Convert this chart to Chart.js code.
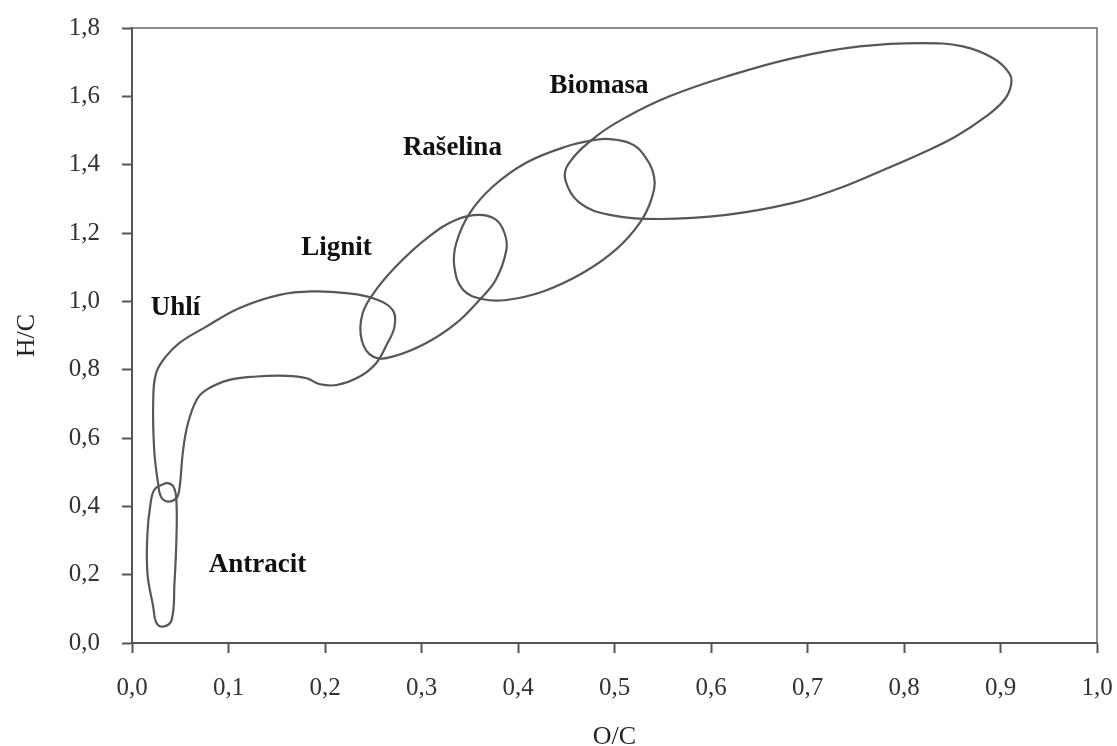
<!DOCTYPE html>
<html lang="cs">
<head>
<meta charset="utf-8">
<title>Diagram H/C - O/C</title>
<script src="https://cdn.jsdelivr.net/npm/chart.js@4.4.1/dist/chart.umd.min.js"></script>
<style>
  html, body { margin: 0; padding: 0; background: #fff; }
  #graphe { display: block; }
</style>
</head>
<body>
<canvas id="graphe" width="1117" height="746"></canvas>
<script>
// noms des zones (même ordre que les contours)
const zones = ['Antracit', 'Uhlí', 'Lignit', 'Rašelina', 'Biomasa'];

const antracitOC = [0.016, 0.019, 0.023, 0.031, 0.037, 0.043, 0.046, 0.046, 0.044, 0.041, 0.032, 0.025, 0.022, 0.016];
const antracitHC = [0.321, 0.404, 0.448, 0.463, 0.468, 0.457, 0.419, 0.302, 0.175, 0.067, 0.048, 0.061, 0.106, 0.204];

const uhliOC = [0.153, 0.187, 0.222, 0.250, 0.270, 0.272, 0.263, 0.253, 0.236, 0.212, 0.194, 0.181, 0.160, 0.129, 0.101, 0.077,
                0.067, 0.058, 0.053, 0.049, 0.046, 0.037, 0.030, 0.027, 0.023, 0.022, 0.025, 0.035, 0.049, 0.077, 0.111];
const uhliHC = [1.019, 1.029, 1.024, 1.009, 0.975, 0.926, 0.868, 0.819, 0.780, 0.755, 0.758, 0.775, 0.782, 0.780, 0.770, 0.741,
                0.712, 0.643, 0.565, 0.448, 0.424, 0.414, 0.428, 0.468, 0.565, 0.712, 0.790, 0.838, 0.878, 0.926, 0.980];

const lignitOC = [0.277, 0.308, 0.336, 0.360, 0.377, 0.386, 0.388, 0.377, 0.360, 0.336, 0.305, 0.270, 0.250, 0.238, 0.239, 0.253];
const lignitHC = [1.112, 1.190, 1.239, 1.253, 1.239, 1.200, 1.151, 1.063, 1.004, 0.936, 0.878, 0.838, 0.838, 0.887, 0.965, 1.034];

const raselinaOC = [0.408, 0.450, 0.481, 0.495, 0.516, 0.529, 0.541, 0.538, 0.526, 0.502, 0.467, 0.426, 0.388, 0.364, 0.343, 0.334, 0.336, 0.350, 0.374];
const raselinaHC = [1.405, 1.453, 1.473, 1.475, 1.463, 1.434, 1.365, 1.297, 1.229, 1.153, 1.083, 1.029, 1.004, 1.006, 1.034, 1.102, 1.170, 1.258, 1.336];

const biomasaOC = [0.616, 0.685, 0.754, 0.819, 0.861, 0.892, 0.909, 0.911, 0.904, 0.885, 0.854, 0.819, 0.775, 0.733, 0.685, 0.616,
                   0.547, 0.495, 0.464, 0.449, 0.453, 0.481, 0.512, 0.557];
const biomasaHC = [1.658, 1.712, 1.746, 1.756, 1.746, 1.712, 1.668, 1.634, 1.590, 1.541, 1.483, 1.434, 1.380, 1.331, 1.288, 1.253,
                   1.241, 1.253, 1.288, 1.356, 1.405, 1.483, 1.539, 1.600];

// position des noms de zones (O/C, H/C)
const etiquetteOC = [0.130, 0.045, 0.212, 0.332, 0.484];
const etiquetteHC = [0.228, 0.980, 1.156, 1.449, 1.631];

const contours = [
  [antracitOC, antracitHC],
  [uhliOC, uhliHC],
  [lignitOC, lignitHC],
  [raselinaOC, raselinaHC],
  [biomasaOC, biomasaHC]
];

// transformer deux tableaux en points ; on ajoute le dernier point devant
// et les deux premiers derrière pour que la courbe se referme sans cassure
function fermer(tabX, tabY) {
  let points = tabX.map((x, i) => ({ x: x, y: tabY[i] }));
  let n = points.length;
  return [points[n - 1]].concat(points, [points[0], points[1]]);
}

const serif = '"Liberation Serif", "DejaVu Serif", serif';
const virgule = v => Number(v).toFixed(1).replace('.', ',');

// noms des zones en gras
const etiquettes = {
  id: 'etiquettes',
  afterDatasetsDraw(chart) {
    const { ctx, scales } = chart;
    ctx.save();
    ctx.font = 'bold 27px ' + serif;
    ctx.fillStyle = '#111';
    ctx.textAlign = 'center';
    ctx.textBaseline = 'middle';
    zones.forEach((nom, i) => {
      ctx.fillText(nom, scales.x.getPixelForValue(etiquetteOC[i]), scales.y.getPixelForValue(etiquetteHC[i]));
    });
    ctx.restore();
  }
};

// cadre haut et droite
const cadre = {
  id: 'cadre',
  beforeDatasetsDraw(chart) {
    const { ctx, chartArea } = chart;
    ctx.save();
    ctx.strokeStyle = '#6a6a6a';
    ctx.lineWidth = 1.5;
    ctx.beginPath();
    ctx.moveTo(chartArea.left, chartArea.top);
    ctx.lineTo(chartArea.right, chartArea.top);
    ctx.lineTo(chartArea.right, chartArea.bottom);
    ctx.stroke();
    ctx.restore();
  }
};

const donnees = {
  datasets: contours.map((c, i) => {
    let pts = fermer(c[0], c[1]);
    let dernier = pts.length - 1;
    return {
      label: zones[i],
      data: pts,
      showLine: true,
      tension: 0.4,
      borderColor: '#575757',
      borderWidth: 2.2,
      pointRadius: 0,
      fill: false,
      // les segments ajoutés aux bouts ne sont pas dessinés
      segment: {
        borderColor: ctx => (ctx.p0DataIndex === 0 || ctx.p1DataIndex === dernier) ? 'rgba(0,0,0,0)' : undefined
      }
    };
  })
};

new Chart(document.getElementById('graphe'), {
  type: 'scatter',
  data: donnees,
  plugins: [cadre, etiquettes],
  options: {
    responsive: false,
    animation: false,
    layout: { padding: { top: 28, right: 20, left: 0, bottom: 0 } },
    plugins: {
      legend: { display: false },
      tooltip: { enabled: false }
    },
    scales: {
      x: {
        type: 'linear',
        min: 0,
        max: 1,
        afterFit(s) {
          s.height = 103;
          s.paddingLeft = 0;
          s.paddingRight = 0;
        },
        ticks: {
          stepSize: 0.1,
          autoSkip: false,
          maxRotation: 0,
          callback: virgule,
          color: '#333',
          padding: 20,
          font: { family: serif, size: 25 }
        },
        grid: { drawOnChartArea: false, tickLength: 10, tickColor: '#555', tickWidth: 2 },
        border: { color: '#555', width: 2 },
        title: {
          display: true,
          text: 'O/C',
          color: '#222',
          font: { family: serif, size: 26, lineHeight: 1 },
          padding: { top: 0, bottom: -4 }
        }
      },
      y: {
        type: 'linear',
        min: 0,
        max: 1.8,
        afterFit(s) {
          s.width = 132;
          s.paddingTop = 0;
          s.paddingBottom = 0;
        },
        ticks: {
          stepSize: 0.2,
          autoSkip: false,
          callback: virgule,
          color: '#333',
          padding: 22,
          font: { family: serif, size: 25 }
        },
        grid: { drawOnChartArea: false, tickLength: 10, tickColor: '#555', tickWidth: 2 },
        border: { color: '#555', width: 2 },
        title: {
          display: true,
          text: 'H/C',
          color: '#222',
          font: { family: serif, size: 26, lineHeight: 1 },
          padding: { top: 14, bottom: 0 }
        }
      }
    }
  }
});
</script>
</body>
</html>
